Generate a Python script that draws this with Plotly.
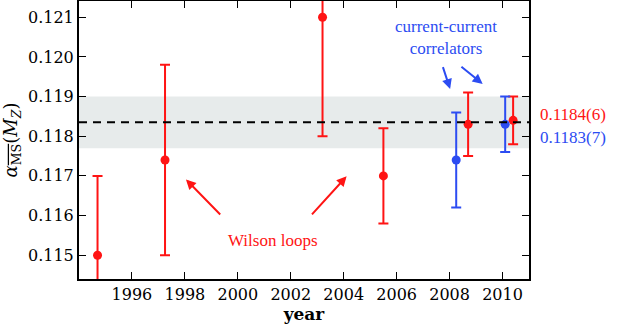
import plotly.graph_objects as go

# Wilson loop determinations (red)
wl_year = [1994.7, 1997.25, 2003.2, 2005.5, 2008.7, 2010.4]
wl_alpha = [0.1150, 0.1174, 0.1210, 0.1170, 0.1183, 0.1184]
wl_err = [0.0020, 0.0024, 0.0030, 0.0012, 0.0008, 0.0006]

# current-current correlators (blue)
cc_year = [2008.25, 2010.1]
cc_alpha = [0.1174, 0.1183]
cc_err = [0.0012, 0.0007]

# average and band
avg = 0.11835
band = [0.1177, 0.1190]
avg_labels = ["0.1184(6)", "0.1183(7)"]

x_ticks = [1996, 1998, 2000, 2002, 2004, 2006, 2008, 2010]
y_ticks = [0.115, 0.116, 0.117, 0.118, 0.119, 0.120, 0.121]

RED = "#ff1414"
BLUE = "#2c4cf2"
TXT = "Times New Roman"   # annotations
AX = "DejaVu Serif"       # axis labels (CM-like)

fig = go.Figure()

fig.add_hrect(y0=band[0], y1=band[1], fillcolor="#e7ebeb", line_width=0, layer="below")
fig.add_hline(y=avg, line=dict(color="black", width=2, dash="8px,6px"))

fig.add_trace(go.Scatter(
    x=wl_year, y=wl_alpha, mode="markers",
    marker=dict(color=RED, size=9),
    error_y=dict(type="data", array=wl_err, color=RED, thickness=2, width=5),
    showlegend=False,
))
fig.add_trace(go.Scatter(
    x=cc_year, y=cc_alpha, mode="markers",
    marker=dict(color=BLUE, size=9),
    error_y=dict(type="data", array=cc_err, color=BLUE, thickness=2, width=5),
    showlegend=False,
))

# text + arrows
fig.add_annotation(x=2001.33, y=0.11536, text="Wilson loops", showarrow=False,
                   font=dict(color=RED, size=17, family=TXT))
for tail, head in [((1999.39, 0.11599), (1998.04, 0.11691)),
                   ((2002.75, 0.11599), (2004.11, 0.11699))]:
    fig.add_annotation(x=head[0], y=head[1], ax=tail[0], ay=tail[1],
                       axref="x", ayref="y", text="", showarrow=True,
                       arrowhead=2, arrowsize=1, arrowwidth=2, arrowcolor=RED)

fig.add_annotation(x=2007.85, y=0.12048, text="current-current<br>correlators",
                   showarrow=False, font=dict(color=BLUE, size=17, family=TXT))
for tail, head in [((2007.73, 0.11978), (2008.02, 0.11919)),
                   ((2008.39, 0.11978), (2009.25, 0.11932))]:
    fig.add_annotation(x=head[0], y=head[1], ax=tail[0], ay=tail[1],
                       axref="x", ayref="y", text="", showarrow=True,
                       arrowhead=2, arrowsize=1, arrowwidth=2, arrowcolor=BLUE)

fig.add_annotation(xref="paper", x=1.02, y=0.11854, text=avg_labels[0], xanchor="left",
                   showarrow=False, font=dict(color=RED, size=17, family=TXT))
fig.add_annotation(xref="paper", x=1.02, y=0.11798, text=avg_labels[1], xanchor="left",
                   showarrow=False, font=dict(color=BLUE, size=17, family=TXT))

axis_common = dict(showline=True, linecolor="black", linewidth=2, mirror="ticks",
                   ticks="inside", ticklen=7, tickwidth=1.2, tickcolor="black",
                   showgrid=False, zeroline=False, automargin=False,
                   tickfont=dict(family=AX, size=16, color="black"))

fig.update_xaxes(range=[1994, 2011], tickvals=x_ticks,
                 title=dict(text="<b>year</b>", font=dict(family=AX, size=17, color="black"),
                            standoff=2),
                 **axis_common)
fig.update_yaxes(range=[0.1144, 0.12141], tickvals=y_ticks, tickformat=".3f",
                 title=dict(text='<i>α</i><sub><span style="text-decoration:overline">MS</span></sub>(<i>M</i><sub><i>Z</i></sub>)',
                            font=dict(family=AX, size=18, color="black"), standoff=8),
                 **axis_common)

fig.update_layout(
    width=619, height=327,
    margin=dict(l=79, r=90, t=1, b=48, autoexpand=False),
    plot_bgcolor="white", paper_bgcolor="white",
    font=dict(family=AX),
)

fig.write_html("out.html", config={"displayModeBar": False},
               post_script="document.body.style.margin='0';")
